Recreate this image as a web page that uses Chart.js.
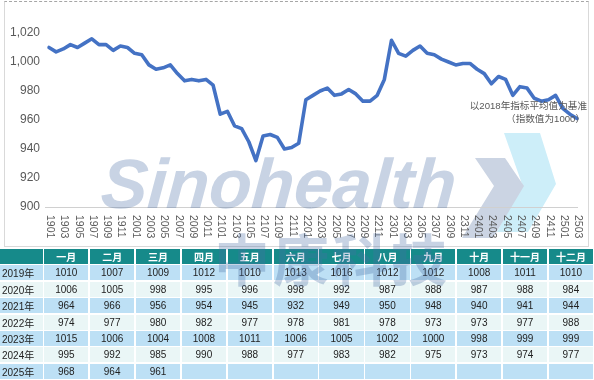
<!DOCTYPE html>
<html>
<head>
<meta charset="utf-8">
<script src="https://cdn.jsdelivr.net/npm/chart.js@4"></script>
<style>
  html, body { margin: 0; padding: 0; background: #fff; }
  body { width: 594px; height: 380px; position: relative; overflow: hidden; font-family: "Liberation Sans", "Noto Sans CJK SC", sans-serif; }
  #chart { position: absolute; left: 0; top: 0; }
  #frame { position: absolute; left: 4px; top: 1px; width: 583px; height: 244px; border: 1px solid #d9d9d9; border-top: 1px dashed #a6a6a6; pointer-events: none; }
  .note { position: absolute; right: 7px; font-size: 9.6px; color: #595959; white-space: nowrap; font-family: "Liberation Sans", "Noto Sans CJK SC", sans-serif; }
  #tbl { position: absolute; left: 0; top: 249.3px; width: 594px; display: grid;
         grid-template-columns: 42.5px repeat(12, 44.2px); grid-template-rows: 14.7px repeat(7, 15px);
         column-gap: 1.7px; row-gap: 1.4px; }
  #tbl div { display: flex; align-items: center; justify-content: center; font-size: 10px; color: #222; overflow: hidden; white-space: nowrap; }
  #tbl div.h { background: #168a8a; color: #fff; font-weight: bold; font-size: 10px; }
  #tbl div.lbl { justify-content: flex-start; padding-left: 2px; }
  #tbl div.b { background: #bde0f5; }
  #tbl div.l { background: #eaf6f6; }
  #logo { position: absolute; left: 0; top: 0; pointer-events: none; }
  #wm { position: absolute; left: 0; top: 0; width: 594px; height: 380px; pointer-events: none; opacity: 0.3; }
  #wm .sino { position: absolute; left: 99px; top: 149px; font-size: 70px; font-weight: bold; font-style: italic; color: #4a6fa5; font-family: "Liberation Sans", sans-serif; letter-spacing: -0.3px; line-height: 1; transform: skewX(-4deg); transform-origin: left bottom; }
  #wm .cn { position: absolute; left: 214px; top: 229px; font-size: 56px; font-weight: bold; color: #4a6fa5; font-family: "Noto Sans CJK SC", sans-serif; line-height: 1; letter-spacing: 3px; }
</style>
</head>
<body>
<svg id="logo" width="594" height="380">
  <polygon points="504,133 540,133 556,184 528,232 497,232 522,184" fill="#cdeef9"/>
  <polygon points="475,158 505,158 524,186 493,238 462,238 494,186" fill="#cbd4e3"/>
</svg>
<canvas id="chart" width="594" height="246"></canvas>
<div id="frame"></div>
<div class="note" style="top:98px;">以2018年指标平均值为基准</div>
<div class="note" style="top:111px; right:9px;">（指数值为1000）</div>
<div id="tbl"></div>
<div id="wm">
  <div class="sino">Sinohealth</div>
  <div class="cn">中康科技</div>
</div>
<script>
const years = ['2019年', '2020年', '2021年', '2022年', '2023年', '2024年', '2025年'];
const months = ['一月', '二月', '三月', '四月', '五月', '六月', '七月', '八月', '九月', '十月', '十一月', '十二月'];
const v2019 = [1010, 1007, 1009, 1012, 1010, 1013, 1016, 1012, 1012, 1008, 1011, 1010];
const v2020 = [1006, 1005, 998, 995, 996, 998, 992, 987, 988, 987, 988, 984];
const v2021 = [964, 966, 956, 954, 945, 932, 949, 950, 948, 940, 941, 944];
const v2022 = [974, 977, 980, 982, 977, 978, 981, 978, 973, 973, 977, 988];
const v2023 = [1015, 1006, 1004, 1008, 1011, 1006, 1005, 1002, 1000, 998, 999, 999];
const v2024 = [995, 992, 985, 990, 988, 977, 983, 982, 975, 973, 974, 977];
const v2025 = [968, 964, 961];
const categories = [
  '1901','1902','1903','1904','1905','1906','1907','1908','1909','1910','1911','1912',
  '2001','2002','2003','2004','2005','2006','2007','2008','2009','2010','2011','2012',
  '2101','2102','2103','2104','2105','2106','2107','2108','2109','2110','2111','2112',
  '2201','2202','2203','2204','2205','2206','2207','2208','2209','2210','2211','2212',
  '2301','2302','2303','2304','2305','2306','2307','2308','2309','2310','2311','2312',
  '2401','2402','2403','2404','2405','2406','2407','2408','2409','2410','2411','2412',
  '2501','2502','2503'
];
const yTicks = [900, 920, 940, 960, 980, 1000, 1020];

const yearRows = [v2019, v2020, v2021, v2022, v2023, v2024, v2025];
const series = [].concat(...yearRows);

// table
const tbl = document.getElementById('tbl');
function cell(text, cls) { const d = document.createElement('div'); d.className = cls; d.textContent = text; tbl.appendChild(d); }
cell('', 'h');
months.forEach(m => cell(m, 'h'));
yearRows.forEach((row, r) => {
  const cls = r % 2 === 0 ? 'b' : 'l';
  cell(years[r], cls + ' lbl');
  for (let i = 0; i < 12; i++) cell(i < row.length ? String(row[i]) : '', cls);
});

const xLabelPlugin = {
  id: 'xlabels',
  afterDraw(chart) {
    const ctx = chart.ctx, xs = chart.scales.x, area = chart.chartArea;
    ctx.save();
    ctx.strokeStyle = '#d0d0d0';
    ctx.lineWidth = 1;
    ctx.beginPath();
    ctx.moveTo(area.left - 4, Math.round(area.bottom) + 0.5);
    ctx.lineTo(area.right + 1, Math.round(area.bottom) + 0.5);
    ctx.stroke();
    ctx.fillStyle = '#595959';
    ctx.font = '10.5px "Liberation Sans", Arial, sans-serif';
    ctx.textAlign = 'left';
    ctx.textBaseline = 'middle';
    categories.forEach((lab, i) => {
      if (i % 2 !== 0) return;
      const x = xs.getPixelForValue(i) + 1;
      ctx.save();
      ctx.translate(x, area.bottom + 8);
      ctx.rotate(Math.PI / 2);
      ctx.fillText(lab, 0, 0);
      ctx.restore();
    });
    ctx.restore();
  }
};

new Chart(document.getElementById('chart'), {
  type: 'line',
  data: {
    labels: categories,
    datasets: [{
      data: series,
      borderColor: '#4472C4',
      borderWidth: 3.6,
      pointRadius: 0,
      tension: 0,
      borderCapStyle: 'round',
      borderJoinStyle: 'round',
      fill: false
    }]
  },
  options: {
    responsive: false,
    animation: false,
    layout: { padding: { left: 0, right: 17, top: 33, bottom: 0 } },
    plugins: { legend: { display: false }, tooltip: { enabled: false } },
    scales: {
      x: {
        ticks: { display: false },
        grid: { display: false, drawTicks: false },
        border: { display: false },
        afterFit(s) { s.height = 39; }
      },
      y: {
        min: 900, max: 1020,
        afterBuildTicks(s) { s.ticks = yTicks.map(v => ({ value: v })); },
        ticks: {
          color: '#595959',
          font: { size: 12, family: '"Liberation Sans", Arial, sans-serif' },
          padding: 9,
          callback: v => v.toLocaleString('en-US')
        },
        grid: { display: false, drawTicks: false },
        border: { display: false },
        afterFit(s) { s.width = 49; }
      }
    }
  },
  plugins: [xLabelPlugin]
});
</script>
</body>
</html>
